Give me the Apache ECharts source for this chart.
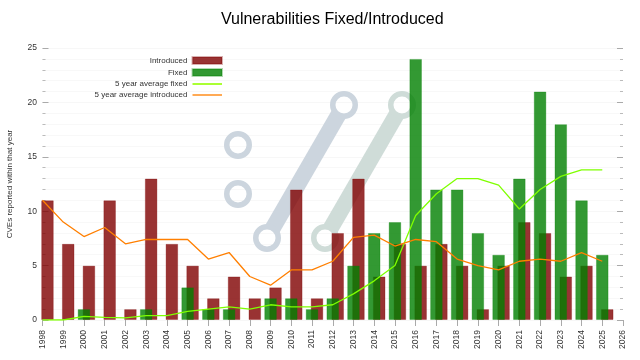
<!DOCTYPE html>
<html>
<head>
<meta charset="utf-8">
<style>html,body{margin:0;padding:0;background:#fff}#c{width:640px;height:360px}</style>
<script src="https://cdn.jsdelivr.net/npm/echarts@6/dist/echarts.min.js"></script>
</head>
<body>
<div id="c"></div>
<script>
const years = [1998,1999,2000,2001,2002,2003,2004,2005,2006,2007,2008,2009,2010,2011,2012,2013,2014,2015,2016,2017,2018,2019,2020,2021,2022,2023,2024,2025];
const introduced = [11,7,5,11,1,13,7,5,2,4,2,3,12,2,8,13,4,7,5,7,5,1,5,9,8,4,5,1];
const fixed = [0,0,1,0,0,1,0,3,1,1,0,2,2,1,2,5,8,9,24,12,12,8,6,13,21,18,11,6];
const avgFixed = [0,0,0.33,0.25,0.2,0.4,0.4,0.8,1,1.2,1,1.4,1.2,1.2,1.4,2.4,3.6,5,9.6,11.6,13,13,12.4,10.2,12,13.2,13.8,13.8];
const avgIntroduced = [11,9,7.67,8.5,7,7.4,7.4,7.4,5.6,6.2,4,3.2,4.6,4.6,5.4,7.6,7.8,6.8,7.4,7.2,5.6,5,4.6,5.4,5.6,5.4,6.2,5.4];

const FONT = '"Liberation Sans", Arial, sans-serif';
const barPairs = vals => years.map((y,i) => [y, vals[i] === 0 ? null : vals[i]]);
const linePairs = vals => years.map((y,i) => [y, vals[i]]);

const ring = (cx,cy,col) => ({type:'ring', silent:true, z:1, shape:{cx,cy,r:14,r0:8.5}, style:{fill:col}});
const band = (x1,y1,x2,y2,col) => ({type:'line', silent:true, z:1, shape:{x1,y1,x2,y2}, style:{stroke:col,lineWidth:16}});
const logoA = '#ccd5de', logoB = '#cfdcd8';

const chart = echarts.init(document.getElementById('c'), null, {renderer:'canvas'});
const yBase = {
  type:'value', min:0, max:25, interval:5,
  axisLine:{show:false},
  axisTick:{show:true, inside:true, length:6, lineStyle:{color:'#aaa', width:1}},
  minorTick:{show:true, splitNumber:5, length:3, lineStyle:{color:'#bbb', width:1}}
};
const hideDot = {color:'transparent', borderColor:'transparent', borderWidth:0};
chart.setOption({
  animation:false,
  backgroundColor:'#fff',
  title:{text:'Vulnerabilities Fixed/Introduced', left:327.25, textAlign:'center', top:7,
    textStyle:{fontFamily:FONT, fontSize:16, fontWeight:'normal', color:'#000'}},
  legend:{
    orient:'vertical', align:'right', right:417, top:56, padding:0, itemWidth:29.5, itemHeight:7, itemGap:3,
    textStyle:{fontFamily:FONT, fontSize:8, color:'#333'},
    data:[
      {name:'Introduced',icon:'rect'},
      {name:'Fixed',icon:'rect'},
      {name:'5 year average fixed', itemStyle:hideDot, lineStyle:{color:'#aaff33', width:2}},
      {name:'5 year average introduced', itemStyle:hideDot, lineStyle:{color:'#ffaa55', width:2}}
    ]
  },
  graphic:[
    ring(238,145,logoA), ring(238,194,logoA),
    band(272,229.4,339,113.7,logoA), ring(267,238,logoA), ring(344,105,logoA),
    band(330,229.4,397,113.7,logoB), ring(325,238,logoB), ring(402,105,logoB)
  ],
  grid:{left:42.5, right:17, top:48, bottom:40, containLabel:false, outerBoundsMode:'none'},
  xAxis:[
    {type:'value', min:1998, max:2026, interval:1,
      axisLine:{show:false},
      axisTick:{show:true, length:6, lineStyle:{color:'#aaa', width:1}},
      splitLine:{show:false},
      axisLabel:{rotate:90, margin:10, fontFamily:FONT, fontSize:8.5, color:'#333', formatter:v=>String(v), hideOverlap:false}},
    {type:'value', min:1997.76, max:2025.76, show:false, splitLine:{show:false}}
  ],
  yAxis:[
    Object.assign({}, yBase, {
      position:'left',
      name:'CVEs reported within that year', nameLocation:'middle', nameGap:28.5, nameRotate:90,
      nameTextStyle:{fontFamily:FONT, fontSize:8, color:'#333'},
      axisLabel:{margin:5.5, fontFamily:FONT, fontSize:8.5, color:'#333'},
      splitLine:{show:true, lineStyle:{color:'#eee', type:'dotted', width:1}},
      minorSplitLine:{show:true, lineStyle:{color:'#f0f0f0', type:'dotted', width:1}}
    }),
    Object.assign({}, yBase, {
      position:'right', axisLabel:{show:false}, splitLine:{show:false}
    })
  ],
  series:[
    {name:'Introduced', type:'bar', xAxisIndex:1, yAxisIndex:0, barWidth:12.6, data:barPairs(introduced),
      itemStyle:{color:'rgba(128,0,0,0.8)', borderColor:'rgba(128,0,0,0.3)', borderWidth:1}},
    {name:'Fixed', type:'bar', xAxisIndex:0, yAxisIndex:0, barWidth:12.6, data:barPairs(fixed),
      itemStyle:{color:'rgba(0,128,0,0.8)', borderColor:'rgba(0,128,0,0.3)', borderWidth:1}},
    {name:'5 year average fixed', type:'line', xAxisIndex:0, yAxisIndex:0, symbol:'none', data:linePairs(avgFixed),
      lineStyle:{color:'#7fff00', width:1.3}, itemStyle:{color:'#7fff00'}},
    {name:'5 year average introduced', type:'line', xAxisIndex:0, yAxisIndex:0, symbol:'none', data:linePairs(avgIntroduced),
      lineStyle:{color:'#ff7f00', width:1.3}, itemStyle:{color:'#ff7f00'}}
  ]
});
</script>
</body>
</html>
